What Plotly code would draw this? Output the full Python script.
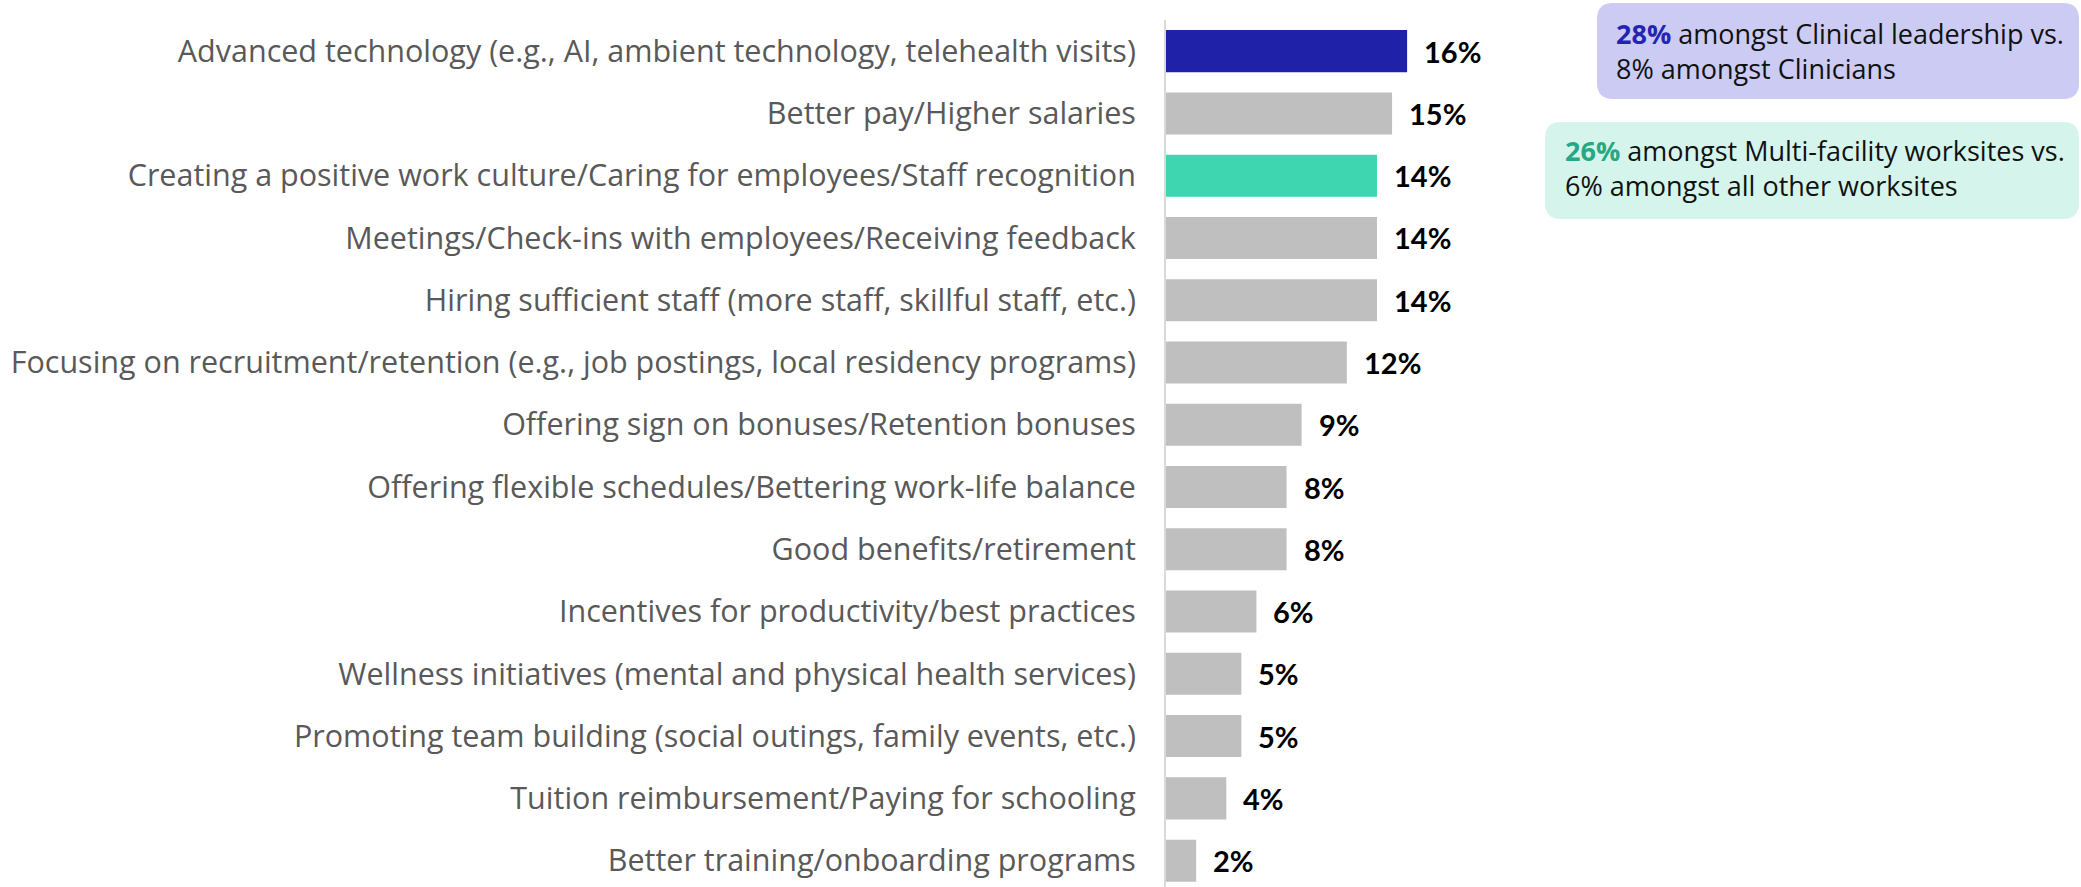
import plotly.graph_objects as go

# Survey responses: strategies for improving staff retention
categories = [
    "Advanced technology (e.g., AI, ambient technology, telehealth visits)",
    "Better pay/Higher salaries",
    "Creating a positive work culture/Caring for employees/Staff recognition",
    "Meetings/Check-ins with employees/Receiving feedback",
    "Hiring sufficient staff (more staff, skillful staff, etc.)",
    "Focusing on recruitment/retention (e.g., job postings, local residency programs)",
    "Offering sign on bonuses/Retention bonuses",
    "Offering flexible schedules/Bettering work-life balance",
    "Good benefits/retirement",
    "Incentives for productivity/best practices",
    "Wellness initiatives (mental and physical health services)",
    "Promoting team building (social outings, family events, etc.)",
    "Tuition reimbursement/Paying for schooling",
    "Better training/onboarding programs",
]
values = [16, 15, 14, 14, 14, 12, 9, 8, 8, 6, 5, 5, 4, 2]

NAVY = "#1F21A9"
TEAL = "#3DD6B0"
GREY = "#BFBFBF"
bar_colors = [NAVY, GREY, TEAL] + [GREY] * (len(values) - 3)

# Callout notes
note1_lead, note1_rest = "28%", " amongst Clinical leadership vs.<br>8% amongst Clinicians"
note2_lead, note2_rest = "26%", " amongst Multi-facility worksites vs.<br>6% amongst all other worksites"

W, H = 2081, 887
ML, MT, MR, MB = 1166, 20, 0, 0
PW, PH = W - ML - MR, H - MT - MB
PX_PER_PCT = 15.07
PITCH = 62.27

TEXT_FONT = "Open Sans"
VALUE_FONT = "Lato"

fig = go.Figure()
fig.add_trace(go.Bar(
    x=values,
    y=categories,
    orientation="h",
    marker=dict(color=bar_colors, line=dict(width=0)),
    hoverinfo="skip",
))

# value labels to the right of each bar
for c, v in zip(categories, values):
    fig.add_annotation(
        x=v, y=c, xref="x", yref="y",
        text=f"<b>{v}%</b>", showarrow=False,
        xanchor="left", yanchor="middle", xshift=15,
        font=dict(family=VALUE_FONT, size=29, color="#000000"),
    )


def px_x(X):
    return (X - ML) / PW


def px_y(Y):
    return (H - MB - Y) / PH


def rounded_box(x0, y0, x1, y1, r, color):
    """Rounded rectangle given page pixel coordinates."""
    rx, ry = r / PW, r / PH
    a, b = px_x(x0), px_x(x1)
    top, bot = px_y(y0), px_y(y1)
    path = (
        f"M {a + rx},{top} L {b - rx},{top} Q {b},{top} {b},{top - ry} "
        f"L {b},{bot + ry} Q {b},{bot} {b - rx},{bot} "
        f"L {a + rx},{bot} Q {a},{bot} {a},{bot + ry} "
        f"L {a},{top - ry} Q {a},{top} {a + rx},{top} Z"
    )
    fig.add_shape(type="path", path=path, xref="paper", yref="paper",
                  fillcolor=color, line=dict(width=0), layer="below")


rounded_box(1597, 3, 2079, 99, 16, "#CBCBF3")
rounded_box(1545, 122, 2079, 219, 16, "#D5F5EC")

fig.add_annotation(
    x=px_x(1614), y=px_y(51), xref="paper", yref="paper",
    xanchor="left", yanchor="middle", align="left", showarrow=False,
    text=f"<b><span style='color:#2424B3'>{note1_lead}</span></b>{note1_rest}",
    font=dict(family=TEXT_FONT, size=27, color="#111111"),
)
fig.add_annotation(
    x=px_x(1563), y=px_y(168), xref="paper", yref="paper",
    xanchor="left", yanchor="middle", align="left", showarrow=False,
    text=f"<b><span style='color:#25A883'>{note2_lead}</span></b>{note2_rest}",
    font=dict(family=TEXT_FONT, size=27, color="#111111"),
)

fig.update_layout(
    width=W, height=H,
    margin=dict(l=ML, r=MR, t=MT, b=MB, autoexpand=False),
    paper_bgcolor="white", plot_bgcolor="white",
    bargap=0.325,
    showlegend=False,
    xaxis=dict(range=[0, PW / PX_PER_PCT], visible=False, fixedrange=True),
    yaxis=dict(
        type="category",
        categoryorder="array", categoryarray=categories,
        range=[-0.5 + PH / PITCH, -0.5],
        showline=True, linecolor="#D9D9D9", linewidth=2,
        showgrid=False, ticks="", ticklabelstandoff=22,
        tickfont=dict(family=TEXT_FONT, size=30.5, color="#595959"),
        automargin=False, fixedrange=True,
    ),
)

fig.write_html("out.html")
